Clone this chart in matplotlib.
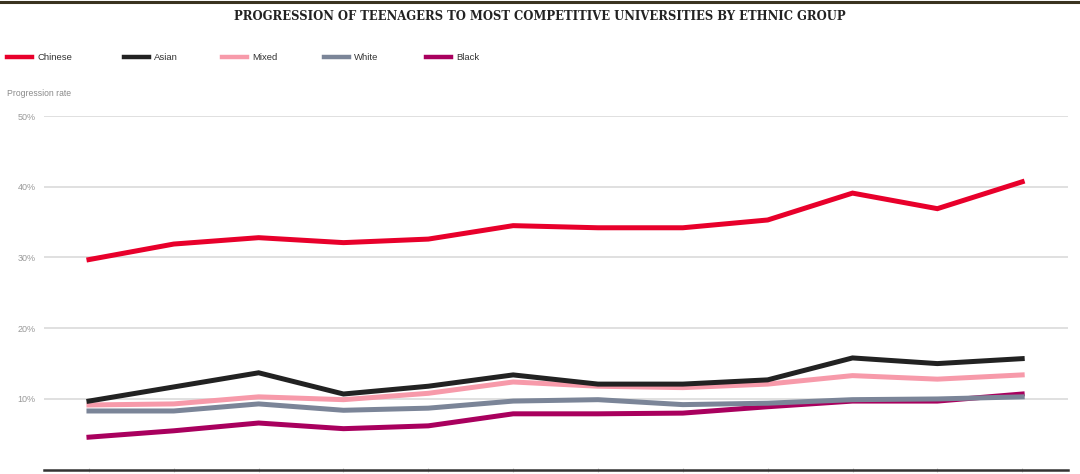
import matplotlib.pyplot as plt
from matplotlib.lines import Line2D

# progression rate (%) per year, 12 years
chinese = [29.7, 31.9, 32.8, 32.1, 32.6, 34.5, 34.2, 34.2, 35.3, 39.1, 36.9, 40.7]
asian = [9.7, 11.7, 13.7, 10.7, 11.8, 13.4, 12.1, 12.1, 12.7, 15.8, 15.0, 15.7]
mixed = [9.15, 9.3, 10.3, 9.9, 10.8, 12.4, 11.8, 11.6, 12.1, 13.3, 12.8, 13.4]
white = [8.3, 8.3, 9.3, 8.4, 8.7, 9.7, 9.9, 9.2, 9.4, 9.9, 10.0, 10.3]
black = [4.6, 5.5, 6.6, 5.8, 6.2, 7.9, 7.9, 8.0, 8.9, 9.7, 9.7, 10.7]

names = ['Chinese', 'Asian', 'Mixed', 'White', 'Black']
colors = ['#e8002b', '#222222', '#f79aaa', '#7b8598', '#a9005e']
yticks = [10, 20, 30, 40, 50]
ytick_labels = ['10%', '20%', '30%', '40%', '50%']

fig = plt.figure(figsize=(10.8, 4.74), dpi=100)
ax = fig.add_axes([44/1080, 1 - 469.7/474, (1068-44)/1080, (469.7-116)/474])

x = range(len(chinese))
# draw the lower lines first so Chinese/Asian sit on top
for vals, c in zip([black, white, mixed, asian, chinese], colors[::-1]):
    ax.plot(x, vals, color=c, lw=3.6, solid_joinstyle='miter', zorder=3)

ax.set_xlim(-0.53, 11.54)
ax.set_ylim(0, 50)
ax.set_yticks(yticks)
ax.set_yticklabels(ytick_labels, family='Liberation Sans')
ax.set_xticks(list(x))
ax.set_xticklabels([])
ax.grid(axis='y', color='#dddddd', lw=1.3)
ax.set_axisbelow(True)
for s in ['top', 'right', 'left']:
    ax.spines[s].set_visible(False)
ax.spines['bottom'].set_color('#333333')
ax.spines['bottom'].set_linewidth(1.8)
ax.tick_params(axis='y', length=0, pad=6, labelsize=6.5, labelcolor='#999999')
ax.tick_params(axis='x', length=3, direction='inout', color='#cccccc', width=0.8)

# top rule and title
fig.add_artist(Line2D([0, 1], [1 - 1.5/474, 1 - 1.5/474], color='#3a3320', lw=2.2))
fig.text(0.5, 1 - 17/474, 'PROGRESSION OF TEENAGERS TO MOST COMPETITIVE UNIVERSITIES BY ETHNIC GROUP',
         ha='center', va='center', family='DejaVu Serif', weight='bold',
         fontsize=8.4, color='#222222')

# legend row
leg_x = [7, 124, 222, 324, 426]
for lx, n, c in zip(leg_x, names, colors):
    fig.add_artist(Line2D([lx/1080, (lx+25)/1080], [1 - 57/474]*2, color=c, lw=3.2))
    fig.text((lx+30)/1080, 1 - 57/474, n, ha='left', va='center',
             fontsize=6.8, color='#333333', family='Liberation Sans')

fig.text(7/1080, 1 - 94/474, 'Progression rate', ha='left', va='center',
         fontsize=6.2, color='#8a8a8a', family='Liberation Sans')

fig.savefig('out.png', dpi=100)
